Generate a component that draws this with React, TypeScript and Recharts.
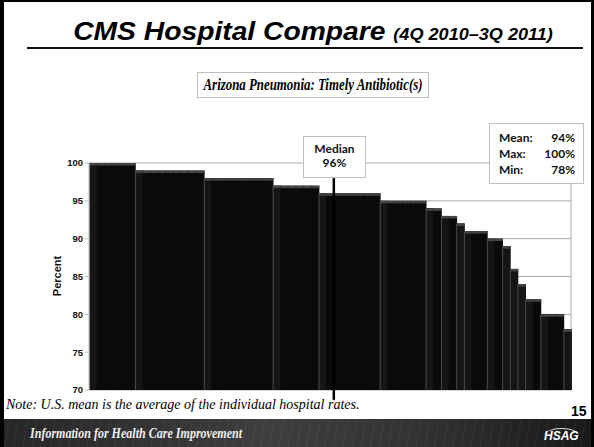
import { BarChart, Bar, XAxis, YAxis, CartesianGrid, ReferenceLine } from 'recharts';

// Arizona hospitals, sorted high to low (percent)
const rates = [
    100, 100, 100, 100, 100, 100,
    99, 99, 99, 99, 99, 99, 99, 99, 99,
    98, 98, 98, 98, 98, 98, 98, 98, 98,
    97, 97, 97, 97, 97, 97,
    96, 96, 96, 96, 96, 96, 96, 96,
    95, 95, 95, 95, 95, 95,
    94, 94,
    93, 93,
    92,
    91, 91, 91,
    90, 90,
    89,
    86,
    84,
    82, 82,
    80, 80, 80,
    78,
];
const yTicks = [70, 75, 80, 85, 90, 95, 100];
const medianHospital = 32;
const stats = [
    { label: 'Mean:', value: '94%' },
    { label: 'Max:', value: '100%' },
    { label: 'Min:', value: '78%' },
];

const data = rates.map((rate, i) => ({ hospital: i + 1, rate }));

const sans = '"Liberation Sans", Arial, sans-serif';
const serif = '"Liberation Serif", "Times New Roman", serif';
const calibri = 'Lato, "Open Sans", sans-serif';

// bar with a grey bevel on top and a faint strip where a new value starts
const BevelBar = (props: any) => {
    const { x, y, width, height, index } = props;
    if (height <= 0) return null;
    const newStep = index === 0 || rates[index] !== rates[index - 1];
    return (
        <g>
            <rect x={x} y={y} width={width + 0.5} height={height} fill="#0a0a0a" />
            {newStep && <rect x={x} y={y} width={width} height={height} fill="#151515" />}
            {newStep && <rect x={x} y={y} width={1} height={height} fill="#4a4a4a" />}
            <rect x={x} y={y} width={width + 0.5} height={2.5} fill="#444" />
        </g>
    );
};

export default function App() {
    return (
        <div
            style={{
                position: 'relative',
                width: 594,
                height: 447,
                background: '#fff',
                overflow: 'hidden',
                boxSizing: 'border-box',
                borderLeft: '4px solid #000',
                borderTop: '2px solid #000',
                borderRight: '3px solid #000',
            }}
        >
            <style>{'body{margin:0}'}</style>

            {/* Title */}
            <div
                style={{
                    position: 'absolute',
                    left: 12,
                    top: 15,
                    width: 594,
                    textAlign: 'center',
                    fontFamily: sans,
                    fontWeight: 'bold',
                    fontStyle: 'italic',
                    fontSize: 25,
                    color: '#000',
                    whiteSpace: 'nowrap',
                    transform: 'scaleX(1.13)',
                    transformOrigin: '297px 0',
                }}
            >
                CMS Hospital Compare <span style={{ fontSize: 16 }}>(4Q 2010–3Q 2011)</span>
            </div>
            <div style={{ position: 'absolute', left: 23, top: 45, width: 556, height: 2, background: '#111' }} />

            {/* Subtitle box */}
            <div
                style={{
                    position: 'absolute',
                    left: 193,
                    top: 70,
                    width: 232,
                    height: 26,
                    boxSizing: 'border-box',
                    border: '1px solid #bdbdbd',
                }}
            >
                <span
                    style={{
                        position: 'absolute',
                        left: '50%',
                        top: 0,
                        transform: 'translateX(-50%) scaleX(0.78)',
                        fontFamily: serif,
                        fontWeight: 'bold',
                        fontStyle: 'italic',
                        fontSize: 16.5,
                        lineHeight: '24px',
                        whiteSpace: 'nowrap',
                    }}
                >
                    Arizona Pneumonia: Timely Antibiotic(s)
                </span>
            </div>

            <div style={{ position: 'absolute', left: -4, top: -2 }}>
                <BarChart
                    width={594}
                    height={447}
                    data={data}
                    margin={{ top: 163, right: 23, bottom: 57, left: 0 }}
                    barCategoryGap={0}
                    barGap={0}
                >
                    <CartesianGrid
                        stroke="#aaaaaa"
                        verticalCoordinatesGenerator={({ offset }: any) => [offset.left + offset.width]}
                    />
                    <XAxis
                        dataKey="hospital"
                        tick={false}
                        tickLine={false}
                        height={0}
                        axisLine={{ stroke: '#b8b8b8' }}
                    />
                    <YAxis
                        width={89}
                        domain={[70, 100]}
                        ticks={yTicks}
                        interval={0}
                        axisLine={{ stroke: '#bdbdbd' }}
                        tickLine={{ stroke: '#bdbdbd' }}
                        tickSize={4}
                        tick={{ fill: '#111', fontSize: 9.5, fontWeight: 'bold', fontFamily: sans }}
                    />
                    <Bar dataKey="rate" isAnimationActive={false} shape={BevelBar} />
                    <ReferenceLine
                        position="end"
                        ifOverflow="visible"
                        segment={[
                            { x: medianHospital, y: 98 },
                            { x: medianHospital, y: 68.7 },
                        ]}
                        stroke="#000"
                        strokeWidth={2.5}
                    />
                </BarChart>
            </div>

            {/* Axis title */}
            <div
                style={{
                    position: 'absolute',
                    left: 57 - 4 - 30,
                    top: 276 - 2 - 7,
                    width: 60,
                    height: 14,
                    transform: 'rotate(-90deg)',
                    fontFamily: sans,
                    fontWeight: 'bold',
                    fontSize: 11,
                    lineHeight: '14px',
                    textAlign: 'center',
                    color: '#111',
                }}
            >
                Percent
            </div>

            {/* Median box */}
            <div
                style={{
                    position: 'absolute',
                    left: 303 - 4,
                    top: 136 - 2,
                    width: 63,
                    height: 42,
                    boxSizing: 'border-box',
                    border: '1px solid #c0c0c0',
                    background: '#fff',
                    fontFamily: calibri,
                    fontWeight: 'bold',
                    fontSize: 12,
                    lineHeight: '14px',
                    paddingTop: 5,
                    textAlign: 'center',
                    color: '#111',
                }}
            >
                Median
                <br />
                96%
            </div>

            {/* Stats box */}
            <div
                style={{
                    position: 'absolute',
                    left: 489 - 4,
                    top: 123 - 2,
                    width: 95,
                    height: 61,
                    boxSizing: 'border-box',
                    border: '1px solid #c0c0c0',
                    background: '#fff',
                    fontFamily: calibri,
                    fontWeight: 'bold',
                    fontSize: 12,
                    lineHeight: '16px',
                    padding: '6px 8px 0 9px',
                    color: '#111',
                }}
            >
                {stats.map((s) => (
                    <div key={s.label} style={{ display: 'flex', justifyContent: 'space-between' }}>
                        <span>{s.label}</span>
                        <span>{s.value}</span>
                    </div>
                ))}
            </div>

            {/* Note and page number */}
            <div
                style={{
                    position: 'absolute',
                    left: 2,
                    top: 395,
                    fontFamily: serif,
                    fontStyle: 'italic',
                    fontSize: 14,
                    whiteSpace: 'nowrap',
                }}
            >
                Note: U.S. mean is the average of the individual hospital rates.
            </div>
            <div
                style={{
                    position: 'absolute',
                    left: 567,
                    top: 401,
                    fontFamily: sans,
                    fontWeight: 'bold',
                    fontSize: 14,
                }}
            >
                15
            </div>

            {/* Footer banner */}
            <div
                style={{
                    position: 'absolute',
                    left: -4,
                    top: 417,
                    width: 594,
                    height: 30,
                    background:
                        'repeating-linear-gradient(100deg, rgba(255,255,255,0.05) 0 1px, transparent 1px 9px), linear-gradient(90deg, #262626, #3e3e3e 45%, #333 70%, #181818)',
                }}
            >
                <div
                    style={{
                        position: 'absolute',
                        left: 30,
                        top: 7,
                        fontFamily: serif,
                        fontWeight: 'bold',
                        fontStyle: 'italic',
                        fontSize: 14,
                        color: '#eee',
                        whiteSpace: 'nowrap',
                        transform: 'scaleX(0.86)',
                        transformOrigin: '0 0',
                    }}
                >
                    Information for Health Care Improvement
                </div>
                <div
                    style={{
                        position: 'absolute',
                        left: 544,
                        top: 9,
                        fontFamily: sans,
                        fontWeight: 'bold',
                        fontStyle: 'italic',
                        fontSize: 12,
                        color: '#fff',
                        borderTop: '1px solid #ddd',
                        borderRadius: '50% 50% 0 0',
                    }}
                >
                    HSAG
                </div>
            </div>
        </div>
    );
}
